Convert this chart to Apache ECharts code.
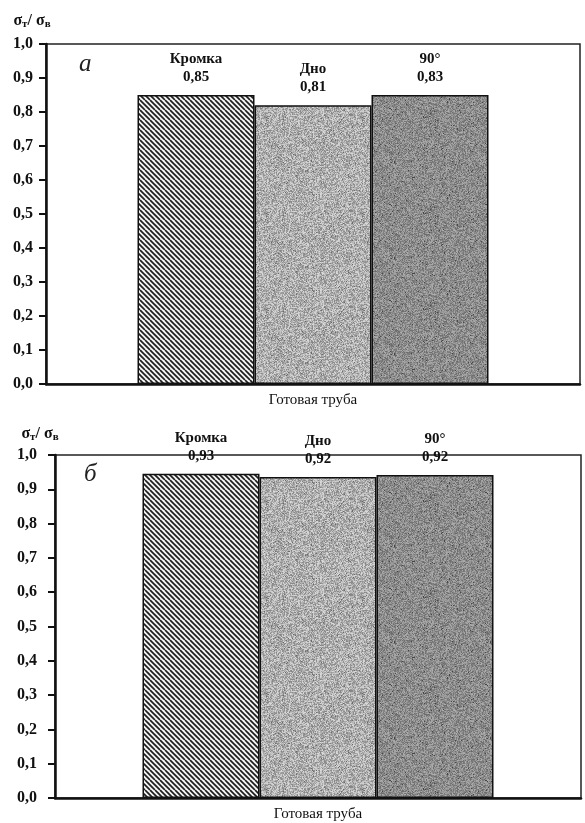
<!DOCTYPE html>
<html>
<head>
<meta charset="utf-8">
<script src="https://cdn.jsdelivr.net/npm/echarts@6/dist/echarts.min.js"></script>
<style>
  html, body { margin: 0; padding: 0; background: #fff; }
  #chart { width: 585px; height: 823px; }
</style>
</head>
<body>
<div id="chart"></div>
<script>
// data
const categories = ['Готовая труба'];
const seriesNames = ['Кромка', 'Дно', '90°'];
const valuesA = [0.85, 0.82, 0.85];
const labelsA = ['0,85', '0,81', '0,83'];
const valuesB = [0.945, 0.936, 0.942];
const labelsB = ['0,93', '0,92', '0,92'];

const serif = 'Liberation Serif';

// fill textures
function hatch() {
  const c = document.createElement('canvas');
  c.width = 10; c.height = 10;
  const ctx = c.getContext('2d');
  ctx.fillStyle = '#f4f4f4';
  ctx.fillRect(0, 0, 10, 10);
  ctx.strokeStyle = '#1e1e1e';
  ctx.lineWidth = 1.7;
  for (let x0 = -10; x0 <= 10; x0 += 5) {
    ctx.beginPath();
    ctx.moveTo(x0, 0);
    ctx.lineTo(x0 + 10, 10);
    ctx.stroke();
  }
  return c;
}

function noise(base, spread, seed) {
  const n = 96;
  const c = document.createElement('canvas');
  c.width = n; c.height = n;
  const ctx = c.getContext('2d');
  const img = ctx.createImageData(n, n);
  for (let i = 0; i < n * n; i++) {
    const h = Math.sin((i + seed) * 12.9898 + seed * 78.233) * 43758.5453;
    const f = h - Math.floor(h);
    let g = base + (f - 0.5) * 2 * spread;
    if (f > 0.985) g = base - 70;
    g = Math.max(0, Math.min(255, g));
    img.data[i * 4] = g;
    img.data[i * 4 + 1] = g;
    img.data[i * 4 + 2] = g;
    img.data[i * 4 + 3] = 255;
  }
  ctx.putImageData(img, 0, 0);
  return c;
}

const fills = [
  { image: hatch(), repeat: 'repeat' },
  { image: noise(176, 45, 3), repeat: 'repeat' },
  { image: noise(140, 35, 7), repeat: 'repeat' }
];

const grids = [
  { left: 46, right: 5, top: 44, bottom: 439 },
  { left: 55, right: 4, top: 455, bottom: 25 }
];

function yAxis(idx, gap, margin, shift) {
  return {
    type: 'value', gridIndex: idx, min: 0, max: 1, interval: 0.1,
    name: '{a|σ}{b|т}{a|/ σ}{b|в}',
    nameLocation: 'end',
    nameGap: gap,
    nameTextStyle: {
      padding: [0, shift, 0, 0],
      rich: {
        a: { fontFamily: serif, fontSize: 16, fontWeight: 'bold', color: '#111' },
        b: { fontFamily: serif, fontSize: 11, fontWeight: 'bold', color: '#111', padding: [8, 0, 0, 0] }
      }
    },
    axisLine: { show: true, lineStyle: { color: '#111', width: 2.5 } },
    axisTick: { show: true, length: 7, lineStyle: { color: '#111', width: 2 } },
    splitLine: { show: false },
    axisLabel: {
      margin: margin, color: '#111', fontFamily: serif, fontSize: 16, fontWeight: 'bold',
      formatter: v => v.toFixed(1).replace('.', ',')
    }
  };
}

function xAxis(idx) {
  return {
    type: 'category', gridIndex: idx, data: categories,
    axisLine: { lineStyle: { color: '#111', width: 2.5 } },
    axisTick: { show: false },
    axisLabel: { margin: 9, color: '#111', fontFamily: serif, fontSize: 15 }
  };
}

function bars(idx, values, labels) {
  return values.map((v, i) => ({
    type: 'bar', name: seriesNames[i], xAxisIndex: idx, yAxisIndex: idx,
    data: [v], barWidth: 117, barGap: '0%',
    itemStyle: { color: fills[i], borderColor: '#111', borderWidth: 1.5 },
    label: {
      show: true, position: 'top', distance: 9,
      fontFamily: serif, fontSize: 15, fontWeight: 'bold', color: '#111', lineHeight: 18,
      formatter: () => seriesNames[i] + '\n' + labels[i]
    }
  }));
}

const chart = echarts.init(document.getElementById('chart'));
chart.setOption({
  animation: false,
  backgroundColor: '#fff',
  title: [
    { text: 'а', left: 79, top: 52, padding: 0,
      textStyle: { fontFamily: serif, fontStyle: 'italic', fontWeight: 'normal', fontSize: 25, color: '#222' } },
    { text: 'б', left: 84, top: 462, padding: 0,
      textStyle: { fontFamily: serif, fontStyle: 'italic', fontWeight: 'normal', fontSize: 25, color: '#222' } }
  ],
  grid: grids.map(g => Object.assign({ show: true, borderColor: '#222', borderWidth: 1.5, containLabel: false }, g)),
  xAxis: [xAxis(0), xAxis(1)],
  yAxis: [yAxis(0, 14, 13, 28), yAxis(1, 12, 18, 30)],
  series: bars(0, valuesA, labelsA).concat(bars(1, valuesB, labelsB))
});
</script>
</body>
</html>
